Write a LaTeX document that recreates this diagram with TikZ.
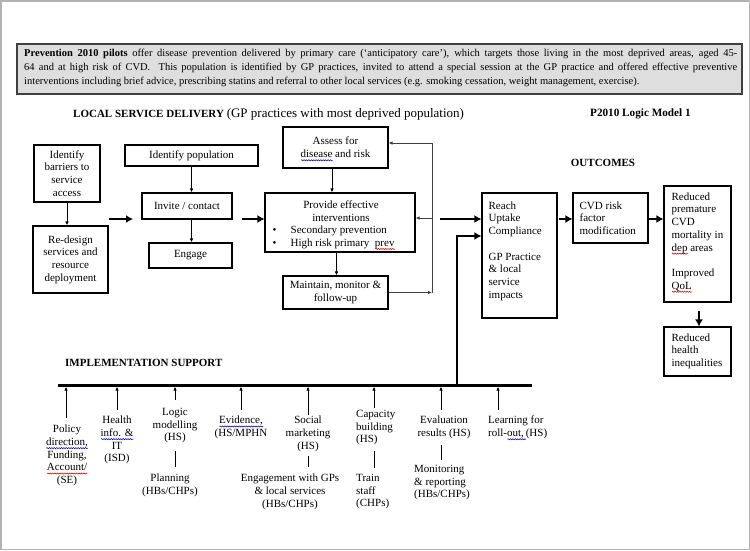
\documentclass[tikz,border=0pt]{standalone}
\usepackage{fontspec}
\setmainfont{Liberation Serif}
\usetikzlibrary{arrows.meta,calc,decorations.pathmorphing}
\newsavebox\sqbox
\newcommand\sq[2]{\sbox\sqbox{#2}\leavevmode\rlap{\raisebox{-2.6pt}[0pt][0pt]{\tikz[baseline=0pt]\draw[#1, line width=0.55pt, decorate, decoration={snake,amplitude=0.55pt,segment length=2.4pt}] (0pt,0pt) -- (\wd\sqbox,0pt);}}\usebox\sqbox}
\colorlet{sqred}{red!85!black}
\colorlet{sqblue}{blue!75!black}
\begin{document}
\begin{tikzpicture}[x=1pt,y=-1pt,
  box/.style={draw, line width=1.1pt, inner sep=0pt},
  txt/.style={font=\fontsize{11}{12.7}\selectfont, inner sep=0pt, align=center},
  ltxt/.style={font=\fontsize{11}{12.7}\selectfont, inner sep=0pt, align=left},
  thinarr/.style={line width=0.8pt, -{Latex[length=4pt,width=3.5pt]}},
  thinline/.style={line width=0.8pt},
  fat/.style={line width=2.6pt, -{Latex[length=7pt,width=8pt]}},
  ]
\useasboundingbox (0,0) rectangle (750,550);
\draw[black!30, line width=1.5pt] (0.75,0.75) rectangle (749.25,549.25);

% header
\node[draw=black!75, line width=1.6pt, fill=black!13, minimum width=725, minimum height=50, inner sep=0pt] (hdr) at (379.5,69) {};
\node[anchor=north west, inner sep=0pt, text width=713, align=justify, font=\fontsize{10.5}{14}\selectfont] (hdrtxt) at (24,49)
 {\textbf{Prevention 2010 pilots} offer disease prevention delivered by primary care (`anticipatory care'), which targets those living in the most deprived areas, aged 45-\linebreak 64 and at high risk of CVD.\ \ This population is identified by GP practices, invited to attend a special session at the GP practice and offered effective preventive\linebreak interventions including brief advice, prescribing statins and referral to other local services (e.g. smoking cessation, weight management, exercise).};

% titles
\node[txt, anchor=west] (lsd) at (73,114) {\textbf{LOCAL SERVICE DELIVERY} {\fontsize{13}{14}\selectfont (GP practices with most deprived population)}};
\node[txt, anchor=west, font=\fontsize{11.2}{12}\selectfont] (p2010) at (590,114) {\textbf{P2010 Logic Model 1}};
\node[txt] (outc) at (603,163) {\textbf{OUTCOMES}};
\node[txt, anchor=west] (impl) at (65,363) {\textbf{IMPLEMENTATION SUPPORT}};

% local service delivery boxes
\node[box, txt, minimum width=66, minimum height=57] (barr) at (67,173.5) {Identify\\barriers to\\service\\access};
\node[box, txt, minimum width=75, minimum height=67] (redesign) at (70.5,259.5) {Re-design\\services and\\resource\\deployment};
\node[box, txt, minimum width=133, minimum height=21] (idpop) at (191.5,155.5) {Identify population};
\node[box, txt, minimum width=90, minimum height=26] (invite) at (187,206) {Invite / contact};
\node[box, txt, minimum width=83, minimum height=25] (engage) at (190.5,255.5) {Engage};
\node[box, txt, minimum width=105, minimum height=41] (assess) at (335.5,147.5) {Assess for\\\sq{sqblue}{disease} and risk};
\node[box, minimum width=150, minimum height=59] (provide) at (340,222.5) {};
\node[txt, anchor=north] (provtitle) at ($(provide.north)+(1,8)$) {Provide effective\\interventions};
\node[ltxt, anchor=north west] (provlist) at ($(provide.north west)+(8,33.4)$) {\makebox[18pt][l]{\textbullet}Secondary prevention\\\makebox[18pt][l]{\textbullet}High risk primary\ \ \sq{sqred}{prev}};
\node[box, txt, minimum width=105, minimum height=33] (maintain) at (335.5,292.5) {Maintain, monitor \&\\follow-up};

% outcomes boxes
\node[box, minimum width=75, minimum height=125] (reach) at (519.5,255.5) {};
\node[ltxt, anchor=north west] (reachtxt) at ($(reach.north west)+(7,9)$) {Reach\\Uptake\\Compliance\\[12.7pt]GP Practice\\\& local\\service\\impacts};
\node[box, minimum width=75, minimum height=50] (cvd) at (610.5,218) {};
\node[ltxt, anchor=north west] (cvdtxt) at ($(cvd.north west)+(7,9)$) {CVD risk\\factor\\modification};
\node[box, minimum width=67, minimum height=116] (reduced) at (697.5,244) {};
\node[ltxt, anchor=north west] (redtxt) at ($(reduced.north west)+(8,7)$) {Reduced\\premature\\CVD\\mortality in\\\sq{sqred}{dep} areas\\[12.7pt]Improved\\\sq{sqred}{QoL}};
\node[box, minimum width=67, minimum height=49] (rhi) at (697.5,351.5) {};
\node[ltxt, anchor=north west] (rhitxt) at ($(rhi.north west)+(8,7)$) {Reduced\\health\\inequalities};

% connectors local delivery
\draw[thinarr] (barr.south) -- (barr.south |- redesign.north);
\draw[thinarr] (idpop.south) -- (idpop.south |- invite.north);
\draw[thinarr] (idpop.south |- invite.south) -- (idpop.south |- engage.north);
\draw[thinarr] ([xshift=-3.5pt]assess.south) -- ([xshift=-3.5pt]assess.south |- provide.north);
\draw[thinarr] ([xshift=-3.5pt]provide.south) -- ([xshift=-3.5pt]provide.south |- maintain.north);

\coordinate (yA) at (0,219);
\coordinate (t1s) at (109,219);
\coordinate (t1e) at (133,219);
\coordinate (t2s) at (242,219);
\coordinate (t3s) at (440,219);
\draw[fat] (t1s) -- (t1e);
\draw[fat] (t2s) -- (provide.west |- yA);
\draw[fat] (t3s) -- (reach.west |- yA);
\draw[fat] ([xshift=1pt]reach.east |- yA) -- (cvd.west |- yA);
\draw[fat] (cvd.east |- yA) -- (reduced.west |- yA);
\draw[fat] ($(reduced.south)+(1.5,8)$) -- ([xshift=1.5pt]rhi.north);

% feedback loop
\coordinate (fbB) at (432,292.5);
\coordinate (fbT) at (432,143);
\coordinate (fbM) at (432,218);
\draw[thinarr, black!75] (maintain.east) -- (fbB);
\draw[thinline, black!75] (fbB) -- (fbT);
\draw[thinarr, black!75] (fbT) -- (fbT -| assess.east);
\draw[thinarr, black!75] (fbM) -- (fbM -| provide.east);

% implementation bar
\coordinate (barL) at (58,385);
\coordinate (barR) at (532,385);
\coordinate (barB) at (0,386.6);
\draw[line width=3pt] (barL) -- (barR);
\coordinate (vb) at (457,385);
\coordinate (vr) at (0,236);
\draw[fat, line join=miter] (vb) |- (vr -| reach.west);

% implementation items
\node[txt, anchor=north] (policy) at (67,425) {Policy\\\sq{sqblue}{direction,}\\Funding,\\\sq{sqred}{Account/}\\(SE)};
\node[txt, anchor=north] (health) at (117,416) {Health\\\sq{sqblue}{info. \&}\\IT\\(ISD)};
\node[txt, anchor=north] (logic) at (175,408) {Logic\\modelling\\(HS)};
\node[txt, anchor=north] (planning) at (170,474) {Planning\\(HBs/CHPs)};
\node[txt, anchor=north] (evidence) at (241,416) {\sq{sqblue}{Evidence,}\\(HS/MPHN};
\node[txt, anchor=north] (social) at (308,416) {Social\\marketing\\(HS)};
\node[txt, anchor=north] (engage2) at (290,474) {Engagement with GPs\\\& local services\\(HBs/CHPs)};
\node[ltxt, anchor=north west] (capacity) at (356,410) {Capacity\\building\\(HS)};
\node[ltxt, anchor=north west] (train) at (356,474) {Train\\staff\\(CHPs)};
\node[txt, anchor=north] (evaluation) at (444,416) {Evaluation\\results (HS)};
\node[ltxt, anchor=north west] (monitor) at (414,465) {Monitoring\\\& reporting\\(HBs/CHPs)};
\node[ltxt, anchor=north west] (learning) at (488,416) {Learning for\\roll-\sq{sqblue}{out,\,}(HS)};

\coordinate (polT) at ($(policy.north)+(-1,-7)$);
\coordinate (heaT) at ($(health.north)+(0,-6)$);
\coordinate (logT) at ($(logic.north)+(0,-8)$);
\coordinate (eviT) at ($(evidence.north)+(0,-6)$);
\coordinate (socT) at ($(social.north)+(0,-1)$);
\coordinate (capT) at ($(capacity.north west)+(18,-2)$);
\coordinate (evaT) at ($(evaluation.north)+(-3,-6)$);
\coordinate (leaT) at ($(learning.north west)+(10,-6)$);
\foreach \c in {polT,heaT,logT,eviT,socT,capT,evaT,leaT}
  \draw[thinarr] (\c) -- (\c |- barB);

\coordinate (logB) at ($(logic.south)+(0,8)$);
\coordinate (socB) at ($(social.south)+(0,4)$);
\coordinate (capB) at ($(capacity.south west)+(18,6)$);
\coordinate (evaB) at ($(evaluation.south)+(-3,6)$);
\draw[thinline] (logB) -- ($(logB |- planning.north)+(0,-7)$);
\draw[thinline] (socB) -- ($(socB |- engage2.north)+(0,-7)$);
\draw[thinline] (capB) -- ($(capB |- train.north)+(0,-6)$);
\draw[thinline] (evaB) -- ($(evaB |- monitor.north)+(0,-5)$);
\end{tikzpicture}
\end{document}
